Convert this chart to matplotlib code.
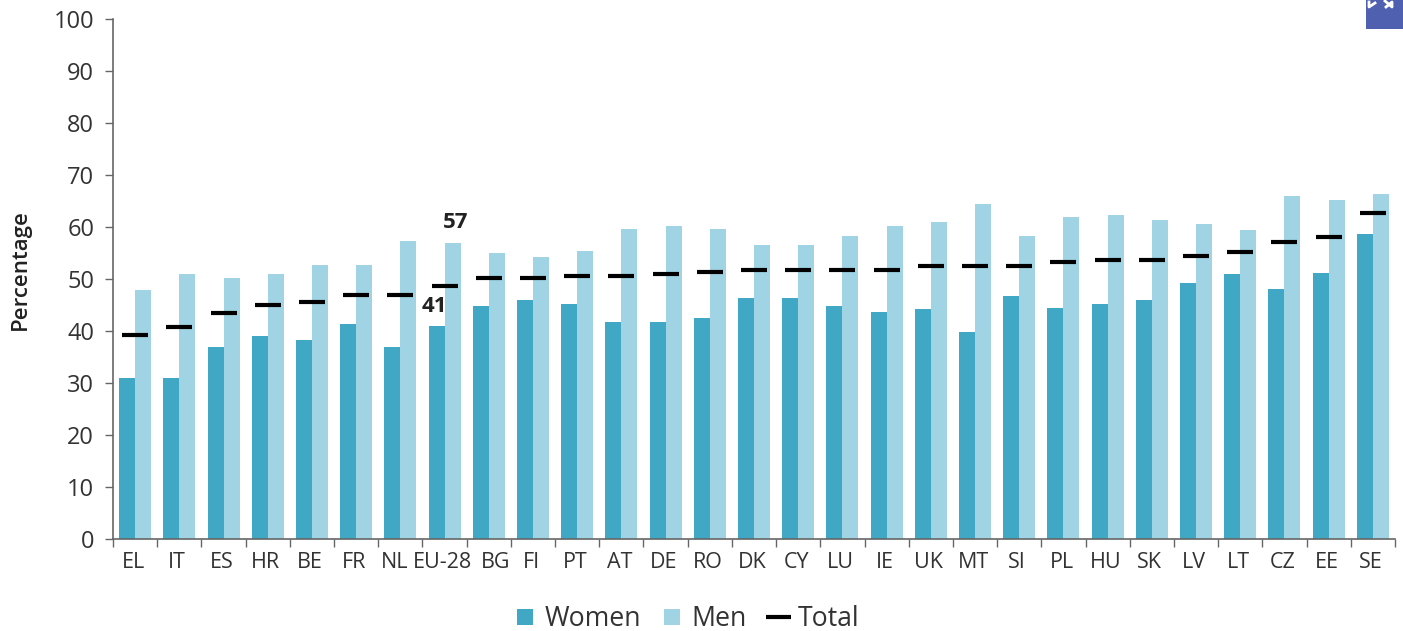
import numpy as np
import matplotlib.pyplot as plt
from matplotlib.lines import Line2D
from matplotlib.patches import Rectangle
from matplotlib.transforms import ScaledTranslation

countries = ['EL', 'IT', 'ES', 'HR', 'BE', 'FR', 'NL', 'EU-28', 'BG', 'FI', 'PT', 'AT', 'DE', 'RO', 'DK',
             'CY', 'LU', 'IE', 'UK', 'MT', 'SI', 'PL', 'HU', 'SK', 'LV', 'LT', 'CZ', 'EE', 'SE']
women = [31, 31, 37, 39, 38.2, 41.3, 37, 41, 44.8, 46, 45.2, 41.8, 41.8, 42.5, 46.4,
         46.4, 44.8, 43.7, 44.2, 39.8, 46.8, 44.5, 45.2, 46, 49.2, 51, 48, 51.2, 58.6]
men = [47.9, 51, 50.2, 51, 52.6, 52.6, 57.4, 57, 55, 54.2, 55.4, 59.7, 60.2, 59.7, 56.5,
       56.5, 58.2, 60.2, 61, 64.4, 58.2, 62, 62.4, 61.3, 60.5, 59.5, 66, 65.2, 66.3]
total = [39.2, 40.8, 43.5, 45, 45.5, 47, 47, 48.6, 50.2, 50.2, 50.6, 50.6, 51, 51.4, 51.8,
         51.8, 51.8, 51.8, 52.5, 52.5, 52.5, 53.3, 53.7, 53.7, 54.5, 55.2, 57.2, 58, 62.7]

c_women = '#40a7c4'
c_men = '#a0d3e3'
c_axis = '#666666'
c_text = '#333333'

W, H = 1403, 631
plt.rcParams['font.family'] = ['Open Sans', 'DejaVu Sans']

fig = plt.figure(figsize=(W/100, H/100), dpi=100)
ax = fig.add_axes([113/W, 1-539/H, (1395-113)/W, (539-19)/H])

x = np.arange(len(countries))
bw = 0.362
ax.bar(x-bw/2, women, bw, color=c_women)
ax.bar(x+bw/2, men, bw, color=c_men)
ax.plot(x, total, ls='none', marker='_', ms=18.7, mew=3, color='black')

ax.text(7+0.06, 46.8, '41', ha='right', va='top', fontsize=16, fontweight='bold', color='#222222')
ax.text(7+bw/2+0.06, 58.9, '57', ha='center', va='bottom', fontsize=16, fontweight='bold', color='#222222')

ax.set_xlim(-0.5, 28.5)
ax.set_ylim(0, 100)
ax.set_yticks(range(0, 101, 10))
ax.set_xticks(x)
ax.set_xticklabels(countries, fontsize=15.5, color=c_text)
ax.set_xticks(np.arange(-0.5, 29), minor=True)
ax.tick_params(axis='x', which='major', length=0, pad=9)
ax.tick_params(axis='x', which='minor', length=5.5, width=1, color=c_axis)
ax.tick_params(axis='y', length=5.5, width=1, color=c_axis, labelsize=17, labelcolor=c_text, pad=8)

# labels are nudged in the original, NL and BG make room for EU-28
for lab in ax.get_xticklabels():
    shift = {'NL': -6, 'BG': 7}.get(lab.get_text(), -2)
    lab.set_transform(lab.get_transform() + ScaledTranslation(shift/100, 0, fig.dpi_scale_trans))

for s in ['top', 'right']:
    ax.spines[s].set_visible(False)
for s in ['left', 'bottom']:
    ax.spines[s].set_color(c_axis)
    ax.spines[s].set_linewidth(1.2)

fig.text(20/W, 1-270/H, 'Percentage', rotation=90, ha='center', va='center',
         fontsize=16, fontweight='semibold', color='#222222')

handles = [
    Line2D([], [], ls='none', marker='s', ms=11.5, mew=0, color=c_women),
    Line2D([], [], ls='none', marker='s', ms=11.5, mew=0, color=c_men),
    Line2D([], [], ls='none', marker='_', ms=18, mew=3, color='black'),
]
fig.legend(handles, ['Women', 'Men', 'Total'], loc='center', bbox_to_anchor=(686/W, 1-619/H), ncol=3,
           frameon=False, fontsize=19.2, numpoints=1, handlelength=0.9, handletextpad=0.3,
           columnspacing=0.7, labelcolor=c_text, borderpad=0)

# blue corner button
fig.add_artist(Rectangle((1366/W, 1-29/H), 37/W, 29/H, transform=fig.transFigure, color='#5060b0', lw=0))
fig.add_artist(Line2D([1375/W, 1369/W, 1369/W], [1-3/H, 1-7/H, 1-2/H], color='white', lw=2))
fig.add_artist(Line2D([1385/W, 1392/W, 1392/W, 1386/W], [1-1/H, 1-7/H, 1-2/H, 1-7/H], color='white', lw=2))

fig.savefig('out.png', dpi=100)
